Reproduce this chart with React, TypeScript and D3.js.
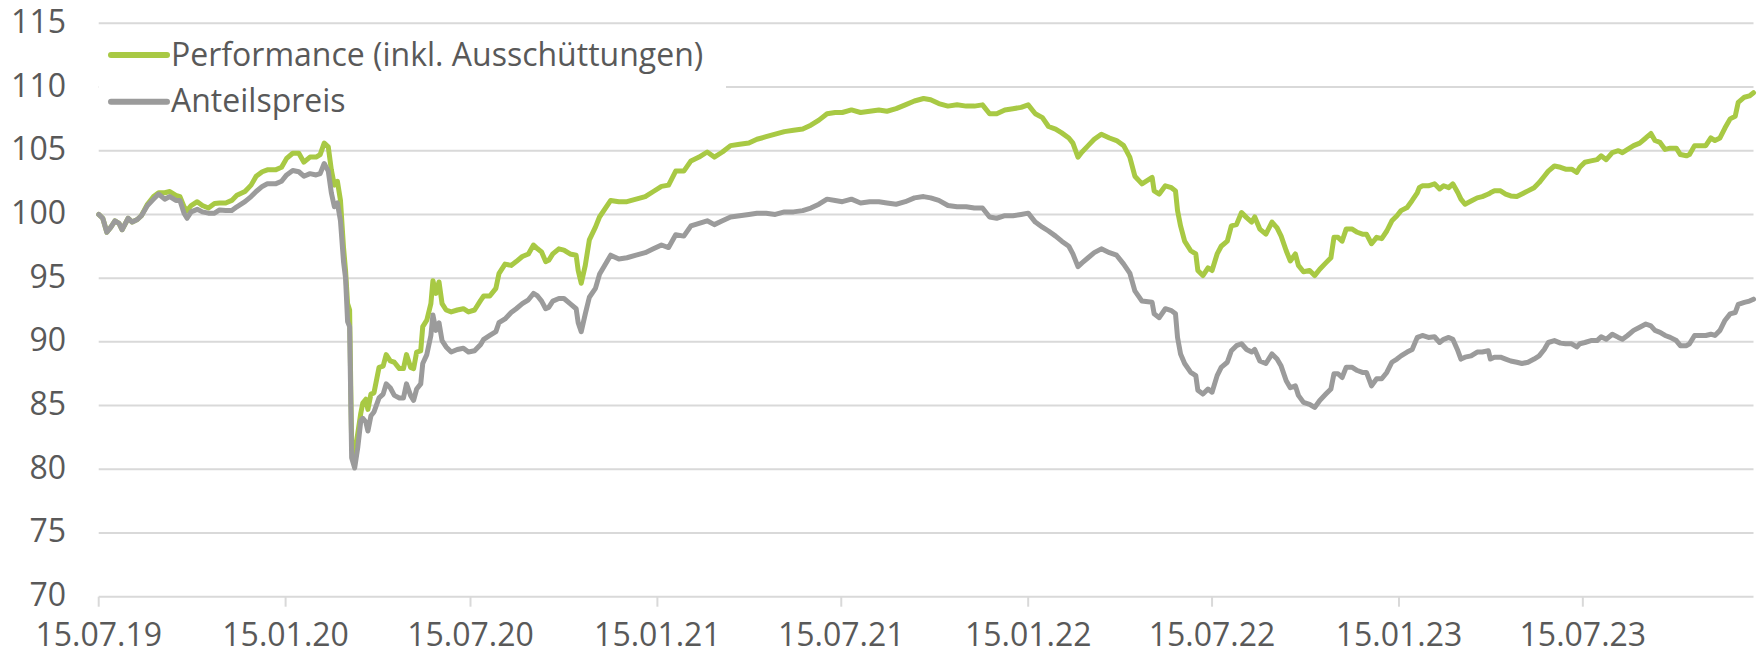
import React, { useEffect, useRef } from 'react';
import * as d3 from 'd3';

// (trading dates, index 15.07.19 = 100)
const dates = [
  "2019-07-15", "2019-07-19", "2019-07-23", "2019-07-27", "2019-07-31", "2019-08-04", "2019-08-07", "2019-08-13",
  "2019-08-17", "2019-08-22", "2019-08-26", "2019-09-01", "2019-09-07", "2019-09-12", "2019-09-18", "2019-09-23",
  "2019-09-29", "2019-10-03", "2019-10-07", "2019-10-10", "2019-10-14", "2019-10-20", "2019-10-25", "2019-10-31",
  "2019-11-06", "2019-11-11", "2019-11-17", "2019-11-23", "2019-11-28", "2019-12-06", "2019-12-12", "2019-12-17",
  "2019-12-23", "2019-12-28", "2020-01-05", "2020-01-11", "2020-01-16", "2020-01-22", "2020-01-28", "2020-02-02",
  "2020-02-08", "2020-02-14", "2020-02-18", "2020-02-22", "2020-02-26", "2020-02-29", "2020-03-03", "2020-03-06",
  "2020-03-09", "2020-03-12", "2020-03-14", "2020-03-16", "2020-03-18", "2020-03-20", "2020-03-23", "2020-03-26",
  "2020-03-29", "2020-03-31", "2020-04-03", "2020-04-05", "2020-04-08", "2020-04-11", "2020-04-16", "2020-04-20",
  "2020-04-23", "2020-04-27", "2020-05-01", "2020-05-06", "2020-05-10", "2020-05-13", "2020-05-17", "2020-05-20",
  "2020-05-23", "2020-05-27", "2020-05-29", "2020-06-02", "2020-06-06", "2020-06-08", "2020-06-11", "2020-06-14",
  "2020-06-17", "2020-06-21", "2020-06-26", "2020-07-02", "2020-07-08", "2020-07-13", "2020-07-19", "2020-07-25",
  "2020-07-28", "2020-08-03", "2020-08-09", "2020-08-12", "2020-08-18", "2020-08-24", "2020-08-29", "2020-09-04",
  "2020-09-10", "2020-09-15", "2020-09-19", "2020-09-23", "2020-09-27", "2020-09-30", "2020-10-04", "2020-10-10",
  "2020-10-15", "2020-10-21", "2020-10-27", "2020-10-29", "2020-11-01", "2020-11-05", "2020-11-09", "2020-11-15",
  "2020-11-19", "2020-11-30", "2020-12-08", "2020-12-16", "2020-12-25", "2021-01-03", "2021-01-11", "2021-01-19",
  "2021-01-26", "2021-02-02", "2021-02-10", "2021-02-17", "2021-02-25", "2021-03-05", "2021-03-12", "2021-03-20",
  "2021-03-28", "2021-04-06", "2021-04-15", "2021-04-23", "2021-05-02", "2021-05-11", "2021-05-20", "2021-05-29",
  "2021-06-07", "2021-06-15", "2021-06-23", "2021-07-01", "2021-07-09", "2021-07-16", "2021-07-25", "2021-08-03",
  "2021-08-12", "2021-08-21", "2021-08-29", "2021-09-07", "2021-09-16", "2021-09-25", "2021-10-04", "2021-10-11",
  "2021-10-19", "2021-10-28", "2021-11-06", "2021-11-15", "2021-11-23", "2021-12-01", "2021-12-08", "2021-12-15",
  "2021-12-23", "2021-12-31", "2022-01-08", "2022-01-15", "2022-01-22", "2022-01-29", "2022-02-04", "2022-02-11",
  "2022-02-17", "2022-02-24", "2022-02-28", "2022-03-05", "2022-03-09", "2022-03-15", "2022-03-21", "2022-03-28",
  "2022-04-05", "2022-04-12", "2022-04-19", "2022-04-25", "2022-04-30", "2022-05-07", "2022-05-17", "2022-05-19",
  "2022-05-24", "2022-05-30", "2022-06-05", "2022-06-09", "2022-06-11", "2022-06-14", "2022-06-18", "2022-06-24",
  "2022-06-29", "2022-07-01", "2022-07-06", "2022-07-11", "2022-07-15", "2022-07-20", "2022-07-24", "2022-07-30",
  "2022-08-03", "2022-08-08", "2022-08-13", "2022-08-18", "2022-08-23", "2022-08-26", "2022-08-31", "2022-09-06",
  "2022-09-12", "2022-09-17", "2022-09-21", "2022-09-26", "2022-09-30", "2022-10-05", "2022-10-08", "2022-10-13",
  "2022-10-19", "2022-10-24", "2022-10-29", "2022-11-04", "2022-11-09", "2022-11-12", "2022-11-16", "2022-11-20",
  "2022-11-24", "2022-11-30", "2022-12-05", "2022-12-10", "2022-12-14", "2022-12-19", "2022-12-24", "2022-12-29",
  "2023-01-03", "2023-01-08", "2023-01-13", "2023-01-17", "2023-01-23", "2023-01-28", "2023-02-02", "2023-02-04",
  "2023-02-07", "2023-02-13", "2023-02-19", "2023-02-24", "2023-02-28", "2023-03-05", "2023-03-09", "2023-03-14",
  "2023-03-17", "2023-03-21", "2023-03-27", "2023-04-02", "2023-04-07", "2023-04-13", "2023-04-15", "2023-04-19",
  "2023-04-25", "2023-04-30", "2023-05-05", "2023-05-11", "2023-05-16", "2023-05-22", "2023-05-28", "2023-06-02",
  "2023-06-07", "2023-06-11", "2023-06-17", "2023-06-23", "2023-06-28", "2023-07-04", "2023-07-09", "2023-07-12",
  "2023-07-17", "2023-07-23", "2023-07-29", "2023-08-02", "2023-08-07", "2023-08-13", "2023-08-19", "2023-08-23",
  "2023-08-28", "2023-09-03", "2023-09-09", "2023-09-15", "2023-09-20", "2023-09-24", "2023-09-29", "2023-10-04",
  "2023-10-09", "2023-10-15", "2023-10-19", "2023-10-25", "2023-10-28", "2023-11-02", "2023-11-07", "2023-11-13",
  "2023-11-18", "2023-11-22", "2023-11-27", "2023-12-02", "2023-12-07", "2023-12-12", "2023-12-15", "2023-12-21",
  "2023-12-26", "2023-12-30",
];

const performance = [
  100.0, 99.7, 98.6, 99.0, 99.5, 99.3, 98.8, 99.7,
  99.4, 99.6, 99.9, 100.8, 101.4, 101.7, 101.7, 101.8,
  101.5, 101.4, 100.6, 100.3, 100.7, 101.0, 100.7, 100.5,
  100.85, 100.9, 100.9, 101.1, 101.5, 101.8, 102.3, 103.0,
  103.35, 103.5, 103.5, 103.7, 104.4, 104.8, 104.8, 104.1,
  104.5, 104.5, 104.7, 105.6, 105.3, 103.5, 102.3, 102.6,
  101.1, 97.4, 95.6, 93.0, 92.5, 82.0, 81.3, 82.8,
  84.4, 85.2, 85.5, 84.7, 85.9, 86.0, 88.0, 88.1,
  89.0, 88.5, 88.4, 87.9, 87.9, 89.0, 88.0, 87.9,
  89.2, 89.3, 91.2, 91.7, 93.0, 94.8, 93.8, 94.7,
  93.0, 92.5, 92.35, 92.5, 92.6, 92.35, 92.5, 93.25,
  93.6, 93.6, 94.2, 95.35, 96.1, 96.0, 96.3, 96.7,
  96.9, 97.6, 97.3, 97.05, 96.3, 96.4, 96.9, 97.3,
  97.2, 96.9, 96.8, 95.6, 94.6, 96.0, 98.0, 99.0,
  99.8, 101.1, 101.0, 101.0, 101.2, 101.4, 101.8, 102.2,
  102.3, 103.4, 103.4, 104.2, 104.5, 104.9, 104.5, 104.9,
  105.4, 105.5, 105.6, 105.9, 106.1, 106.3, 106.5, 106.6,
  106.7, 107.0, 107.4, 107.9, 108.0, 108.0, 108.2, 108.0,
  108.1, 108.2, 108.1, 108.3, 108.6, 108.9, 109.1, 109.0,
  108.7, 108.5, 108.6, 108.5, 108.5, 108.6, 107.9, 107.9,
  108.2, 108.3, 108.4, 108.6, 107.9, 107.6, 106.9, 106.7,
  106.4, 106.0, 105.6, 104.5, 104.9, 105.4, 105.9, 106.3,
  106.0, 105.8, 105.4, 104.5, 103.0, 102.4, 102.9, 101.85,
  101.6, 102.25, 102.1, 101.85, 100.3, 99.1, 97.9, 97.15,
  96.9, 95.6, 95.2, 95.8, 95.6, 96.9, 97.5, 97.9,
  99.1, 99.2, 100.15, 99.75, 99.4, 99.8, 98.85, 98.45,
  99.4, 98.95, 98.3, 97.15, 96.35, 96.9, 96.0, 95.5,
  95.6, 95.2, 95.7, 96.2, 96.6, 98.2, 98.2, 97.9,
  98.85, 98.85, 98.6, 98.45, 98.45, 97.7, 98.2, 98.1,
  98.7, 99.5, 99.9, 100.3, 100.55, 101.1, 101.7, 102.1,
  102.25, 102.25, 102.4, 102.0, 102.25, 102.1, 102.4, 101.7,
  101.2, 100.8, 101.05, 101.3, 101.4, 101.6, 101.7, 101.85,
  101.85, 101.6, 101.45, 101.4, 101.6, 101.85, 102.1, 102.5,
  103.0, 103.4, 103.8, 103.7, 103.55, 103.55, 103.3, 103.7,
  104.1, 104.2, 104.3, 104.6, 104.3, 104.85, 105.0, 104.85,
  105.1, 105.4, 105.6, 106.0, 106.35, 105.8, 105.65, 105.1,
  105.2, 105.2, 104.7, 104.6, 104.7, 105.4, 105.4, 105.4,
  106.0, 105.8, 106.0, 106.8, 107.5, 107.7, 108.8, 109.2,
  109.3, 109.55,
];

const anteilspreis = [
  100.0, 99.7, 98.6, 99.0, 99.5, 99.3, 98.8, 99.7,
  99.4, 99.6, 99.9, 100.7, 101.2, 101.6, 101.2, 101.4,
  101.1, 101.1, 100.1, 99.7, 100.2, 100.4, 100.2, 100.1,
  100.1, 100.35, 100.3, 100.3, 100.6, 101.0, 101.4, 101.8,
  102.2, 102.4, 102.4, 102.6, 103.1, 103.45, 103.35, 103.0,
  103.2, 103.1, 103.2, 104.0, 103.4, 101.7, 100.6, 100.9,
  99.5, 96.3, 95.0, 91.6, 91.2, 80.9, 80.1, 81.7,
  83.8, 84.0, 83.7, 83.0, 84.2, 84.5, 85.6, 85.9,
  86.7, 86.4, 85.8, 85.6, 85.6, 86.7, 85.8, 85.4,
  86.3, 86.7, 88.3, 89.0, 90.5, 92.1, 90.9, 91.5,
  90.1, 89.6, 89.2, 89.4, 89.5, 89.2, 89.3, 89.8,
  90.2, 90.5, 90.8, 91.5, 91.8, 92.3, 92.6, 93.0,
  93.3, 93.8, 93.6, 93.2, 92.6, 92.7, 93.2, 93.4,
  93.4, 93.0, 92.6, 91.5, 90.8, 92.2, 93.5, 94.2,
  95.3, 96.8, 96.5, 96.6, 96.8, 97.0, 97.3, 97.6,
  97.4, 98.4, 98.3, 99.1, 99.3, 99.5, 99.2, 99.5,
  99.8, 99.9, 100.0, 100.1, 100.1, 100.0, 100.2, 100.2,
  100.3, 100.5, 100.8, 101.2, 101.1, 101.0, 101.2, 100.9,
  101.0, 101.0, 100.9, 100.8, 101.0, 101.3, 101.4, 101.3,
  101.1, 100.7, 100.6, 100.6, 100.5, 100.5, 99.8, 99.7,
  99.9, 99.9, 100.0, 100.1, 99.4, 99.0, 98.7, 98.3,
  97.9, 97.5, 96.9, 95.9, 96.2, 96.6, 97.0, 97.3,
  97.0, 96.8, 96.1, 95.4, 94.0, 93.2, 93.1, 92.2,
  91.9, 92.6, 92.45, 92.2, 90.35, 89.05, 88.3, 87.6,
  87.35, 86.2, 85.9, 86.3, 86.05, 87.35, 88.0, 88.4,
  89.3, 89.7, 89.85, 89.4, 89.2, 89.4, 88.5, 88.3,
  89.05, 88.65, 88.1, 86.95, 86.4, 86.55, 85.8, 85.25,
  85.1, 84.85, 85.4, 85.9, 86.3, 87.5, 87.5, 87.2,
  88.0, 88.0, 87.75, 87.6, 87.6, 86.55, 87.1, 87.1,
  87.6, 88.4, 88.65, 88.9, 89.2, 89.4, 90.35, 90.4,
  90.5, 90.35, 90.4, 89.95, 90.2, 90.35, 90.2, 89.3,
  88.65, 88.8, 88.9, 89.2, 89.2, 89.3, 88.65, 88.8,
  88.8, 88.65, 88.5, 88.4, 88.3, 88.4, 88.65, 88.9,
  89.4, 89.95, 90.1, 89.9, 89.85, 89.85, 89.6, 89.85,
  89.95, 90.1, 90.1, 90.4, 90.2, 90.6, 90.35, 90.2,
  90.5, 90.9, 91.15, 91.4, 91.25, 90.9, 90.75, 90.5,
  90.35, 90.1, 89.7, 89.7, 89.85, 90.5, 90.5, 90.5,
  90.6, 90.5, 90.9, 91.7, 92.2, 92.3, 92.95, 93.1,
  93.2, 93.35,
];

const yTicks = [70, 75, 80, 85, 90, 95, 100, 105, 110, 115];
const xTicks = [
  "2019-07-15", "2020-01-15", "2020-07-15", "2021-01-15", "2021-07-15",
  "2022-01-15", "2022-07-15", "2023-01-15", "2023-07-15",
];
const seriesNames = ["Performance (inkl. Ausschüttungen)", "Anteilspreis"];
const seriesColors = ["#a8c944", "#9b9b9b"];

const WIDTH = 1757;
const HEIGHT = 655;

const App = () => {
  const svgRef = useRef<SVGSVGElement>(null);

  useEffect(() => {
    if (!svgRef.current) return;
    document.body.style.margin = '0';

    const svg = d3.select(svgRef.current);
    svg.selectAll("*").remove();

    const parse = d3.timeParse("%Y-%m-%d");
    const parsed = dates.map(d => parse(d) as Date);

    const x = d3.scaleTime()
      .domain(d3.extent(parsed) as [Date, Date])
      .range([98.7, 1753.5]);
    const y = d3.scaleLinear()
      .domain([70, 115])
      .range([596.7, 23.3]);

    const g = svg.append("g")
      .attr("font-family", "'Open Sans', sans-serif")
      .attr("font-size", 32)
      .attr("fill", "#595959");

    // gridlines (the 70 line doubles as x axis)
    g.append("g")
      .selectAll("line")
      .data(yTicks)
      .join("line")
      .attr("x1", x.range()[0])
      .attr("x2", x.range()[1])
      .attr("y1", d => y(d))
      .attr("y2", d => y(d))
      .attr("stroke", "#d9d9d9")
      .attr("stroke-width", 2);

    // y labels
    g.append("g")
      .selectAll("text")
      .data(yTicks)
      .join("text")
      .attr("x", 66)
      .attr("y", d => y(d) + 9.5)
      .attr("text-anchor", "end")
      .text(d => d);

    // x ticks + labels
    const tickDates = xTicks.map(d => parse(d) as Date);
    const fmt = d3.timeFormat("%d.%m.%y");
    g.append("g")
      .selectAll("line")
      .data(tickDates)
      .join("line")
      .attr("x1", d => x(d))
      .attr("x2", d => x(d))
      .attr("y1", y(70))
      .attr("y2", y(70) + 10)
      .attr("stroke", "#d9d9d9")
      .attr("stroke-width", 2);
    g.append("g")
      .selectAll("text")
      .data(tickDates)
      .join("text")
      .attr("x", d => x(d))
      .attr("y", 646)
      .attr("text-anchor", "middle")
      .text(d => fmt(d));

    // lines, Anteilspreis drawn on top
    const line = d3.line<number>()
      .x((_, i) => x(parsed[i]))
      .y(d => y(d));

    [performance, anteilspreis].forEach((values, i) => {
      svg.append("path")
        .datum(values)
        .attr("d", line)
        .attr("fill", "none")
        .attr("stroke", seriesColors[i])
        .attr("stroke-width", 5)
        .attr("stroke-linejoin", "round")
        .attr("stroke-linecap", "round");
    });

    // legend with white background
    const legend = svg.append("g")
      .attr("font-family", "'Open Sans', sans-serif")
      .attr("font-size", 32)
      .attr("fill", "#595959");
    legend.append("rect")
      .attr("x", 99)
      .attr("y", 32)
      .attr("width", 627)
      .attr("height", 92)
      .attr("fill", "#fff");
    const items = legend.selectAll("g.item")
      .data(seriesNames)
      .join("g")
      .attr("class", "item")
      .attr("transform", (_, i) => `translate(0,${55 + i * 46.7})`);
    items.append("line")
      .attr("x1", 111)
      .attr("x2", 167)
      .attr("stroke", (_, i) => seriesColors[i])
      .attr("stroke-width", 6)
      .attr("stroke-linecap", "round");
    items.append("text")
      .attr("x", 171)
      .attr("y", 10.5)
      .text(d => d);
  }, []);

  return <svg ref={svgRef} width={WIDTH} height={HEIGHT} style={{ display: 'block' }} />;
};

export default App;
